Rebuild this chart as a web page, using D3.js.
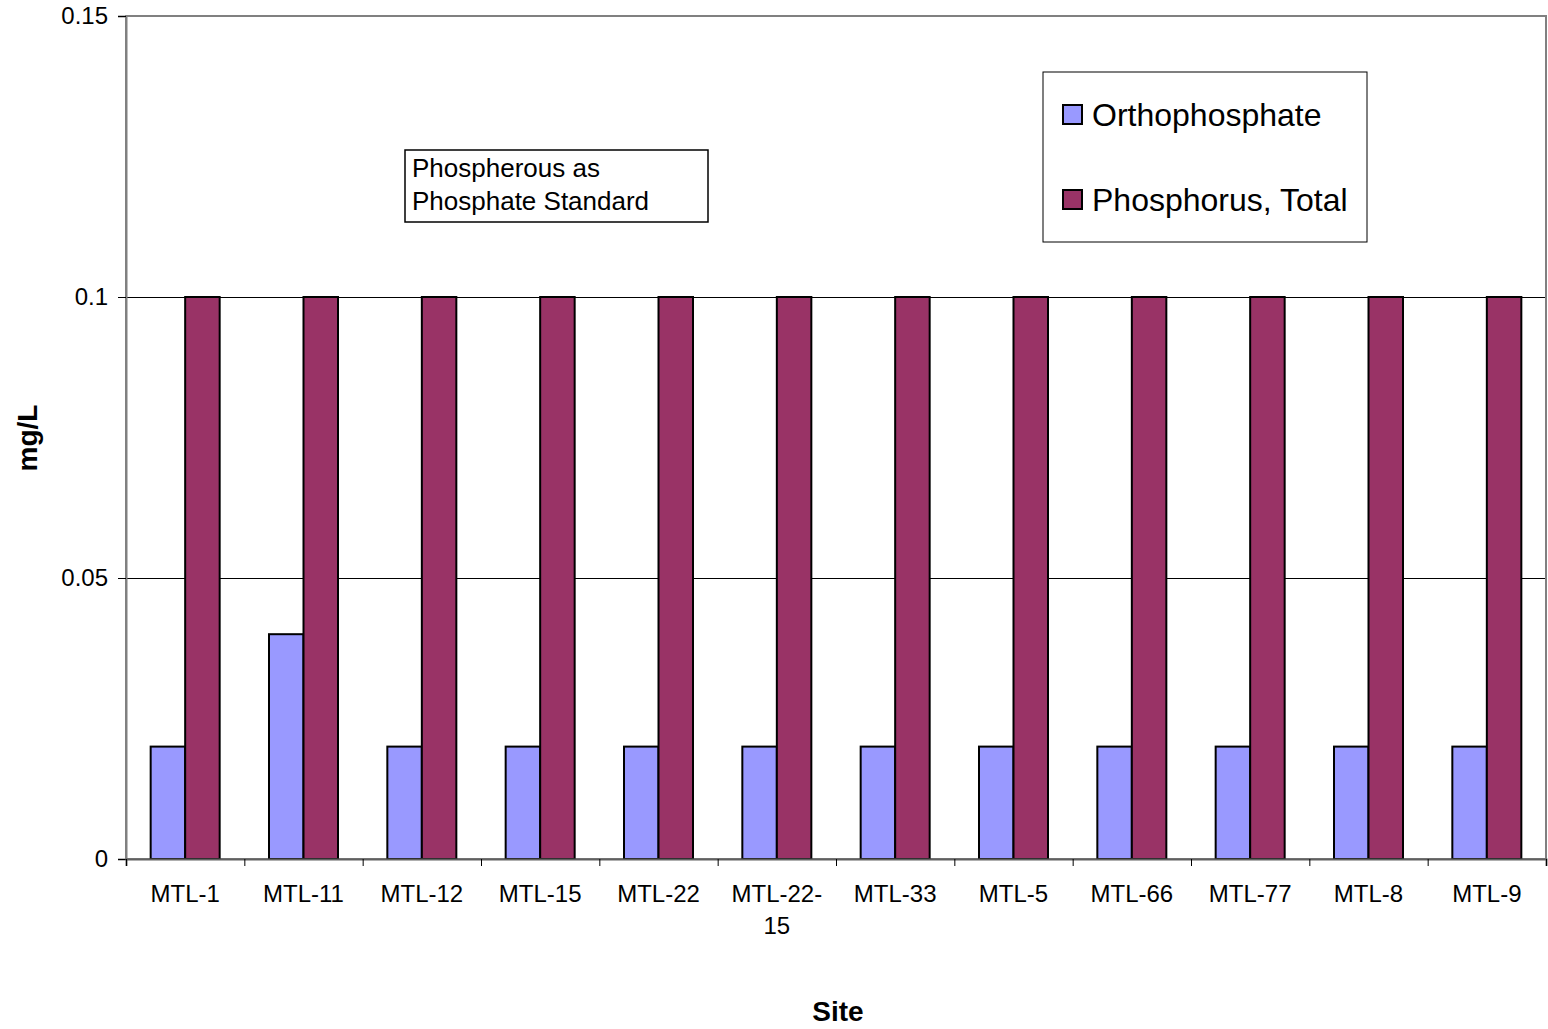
<!DOCTYPE html>
<html>
<head>
<meta charset="utf-8">
<script src="https://cdn.jsdelivr.net/npm/d3@7"></script>
<style>
  body { margin: 0; background: #fff; }
  svg { font-family: "Liberation Sans", Arial, sans-serif; }
</style>
</head>
<body>
<svg id="chart"></svg>
<script>
// data
const sites = ["MTL-1", "MTL-11", "MTL-12", "MTL-15", "MTL-22", "MTL-22-15",
               "MTL-33", "MTL-5", "MTL-66", "MTL-77", "MTL-8", "MTL-9"];
const seriesNames = ["Orthophosphate", "Phosphorus, Total"];
const orthoValues = [0.02, 0.04, 0.02, 0.02, 0.02, 0.02, 0.02, 0.02, 0.02, 0.02, 0.02, 0.02];
const totalValues = [0.1, 0.1, 0.1, 0.1, 0.1, 0.1, 0.1, 0.1, 0.1, 0.1, 0.1, 0.1];
const yTicks = [0, 0.05, 0.1, 0.15];
const yTickLabels = ["0", "0.05", "0.1", "0.15"];
const colors = ["#9999ff", "#993366"];

const width = 1548, height = 1029;
const margin = { top: 16, right: 2, bottom: 170, left: 126 };
const innerW = width - margin.left - margin.right;
const innerH = height - margin.top - margin.bottom;

const svg = d3.select("#chart").attr("width", width).attr("height", height);
const chart = svg.append("g")
  .attr("transform", `translate(${margin.left},${margin.top})`);

// scales
const x0 = d3.scaleBand().domain(sites).range([0, innerW]).padding(0);
const x1 = d3.scaleBand().domain(seriesNames).range([0, x0.bandwidth()])
  .paddingInner(0).paddingOuter(0.715);
const y = d3.scaleLinear().domain([0, 0.15]).range([innerH, 0]);

// gridlines
chart.append("g").selectAll("line")
  .data(yTicks.filter(d => d > 0 && d < 0.15))
  .join("line")
    .attr("x1", 0).attr("x2", innerW)
    .attr("y1", d => y(d) + 0.5).attr("y2", d => y(d) + 0.5)
    .attr("stroke", "#000").attr("stroke-width", 1)
    .attr("shape-rendering", "crispEdges");

// plot frame (top + right in grey)
chart.append("rect")
  .attr("x", 0).attr("y", 0).attr("width", innerW).attr("height", innerH)
  .attr("fill", "none").attr("stroke", "#808080").attr("stroke-width", 2);

// bars
const rows = sites.map((s, i) => ({ site: s, vals: [orthoValues[i], totalValues[i]] }));
const groups = chart.append("g").selectAll("g")
  .data(rows)
  .join("g")
    .attr("transform", d => `translate(${x0(d.site)},0)`);

groups.selectAll("rect")
  .data(d => d.vals.map((v, k) => ({ key: seriesNames[k], value: v, k: k })))
  .join("rect")
    .attr("x", d => x1(d.key))
    .attr("y", d => y(d.value))
    .attr("width", x1.bandwidth())
    .attr("height", d => innerH - y(d.value))
    .attr("fill", d => colors[d.k])
    .attr("stroke", "#000")
    .attr("stroke-width", 2);

// y axis
const yAxisG = chart.append("g")
  .call(d3.axisLeft(y).tickValues(yTicks)
    .tickFormat((d, i) => yTickLabels[i]).tickSize(8).tickPadding(10));
yAxisG.select(".domain").attr("stroke", "#808080").attr("stroke-width", 2);
yAxisG.selectAll(".tick line").attr("stroke", "#000");
yAxisG.selectAll("text")
  .style("font-size", "24px").attr("fill", "#000")
  .attr("font-family", "Liberation Sans, Arial, sans-serif");

// x axis: tick marks at the category boundaries
const xb = d3.scaleLinear().domain([0, sites.length]).range([0, innerW]);
const xTickG = chart.append("g")
  .attr("transform", `translate(0,${innerH})`)
  .call(d3.axisBottom(xb).ticks(sites.length).tickFormat("").tickSize(7));
xTickG.select(".domain").attr("stroke", "#606060").attr("stroke-width", 2);
xTickG.selectAll(".tick line").attr("stroke", "#000");

// x axis labels
const xAxisG = chart.append("g")
  .attr("transform", `translate(0,${innerH})`)
  .call(d3.axisBottom(x0).tickSize(0).tickPadding(26));
xAxisG.select(".domain").remove();
xAxisG.selectAll("text")
  .style("font-size", "24px").attr("fill", "#000")
  .attr("font-family", "Liberation Sans, Arial, sans-serif")
  .each(function(d) {
    // wrap long labels after the last hyphen, like Excel does
    const t = d3.select(this);
    if (this.getComputedTextLength() > x0.bandwidth() - 10) {
      const cut = d.lastIndexOf("-") + 1;
      const yy = t.attr("y");
      t.text(null);
      t.append("tspan").attr("x", 0).attr("y", yy).attr("dy", "0.71em").text(d.slice(0, cut));
      t.append("tspan").attr("x", 0).attr("y", yy).attr("dy", "2.05em").text(d.slice(cut));
    }
  });

// axis titles
svg.append("text")
  .attr("x", margin.left + innerW / 2 + 2)
  .attr("y", 1021)
  .attr("text-anchor", "middle")
  .style("font-size", "28px").style("font-weight", "bold")
  .text("Site");

svg.append("text")
  .attr("transform", `translate(37,438) rotate(-90)`)
  .attr("text-anchor", "middle")
  .style("font-size", "28px").style("font-weight", "bold")
  .text("mg/L");

// text box
const note = svg.append("g").attr("transform", "translate(405,150)");
note.append("rect")
  .attr("width", 303).attr("height", 72)
  .attr("fill", "#fff").attr("stroke", "#000").attr("stroke-width", 1.5);
note.append("text").attr("x", 7).attr("y", 27)
  .style("font-size", "26px").text("Phospherous as");
note.append("text").attr("x", 7).attr("y", 60)
  .style("font-size", "26px").text("Phosphate Standard");

// legend
const legend = svg.append("g").attr("transform", "translate(1043,72)");
legend.append("rect")
  .attr("width", 324).attr("height", 170)
  .attr("fill", "#fff").attr("stroke", "#000").attr("stroke-width", 1);
const items = legend.selectAll("g")
  .data(seriesNames)
  .join("g")
    .attr("transform", (d, i) => `translate(20,${33 + i * 85})`);
items.append("rect")
  .attr("width", 19).attr("height", 19)
  .attr("fill", (d, i) => colors[i])
  .attr("stroke", "#000").attr("stroke-width", 2);
items.append("text")
  .attr("x", 29).attr("y", 21)
  .style("font-size", "32px")
  .text(d => d);
</script>
</body>
</html>
